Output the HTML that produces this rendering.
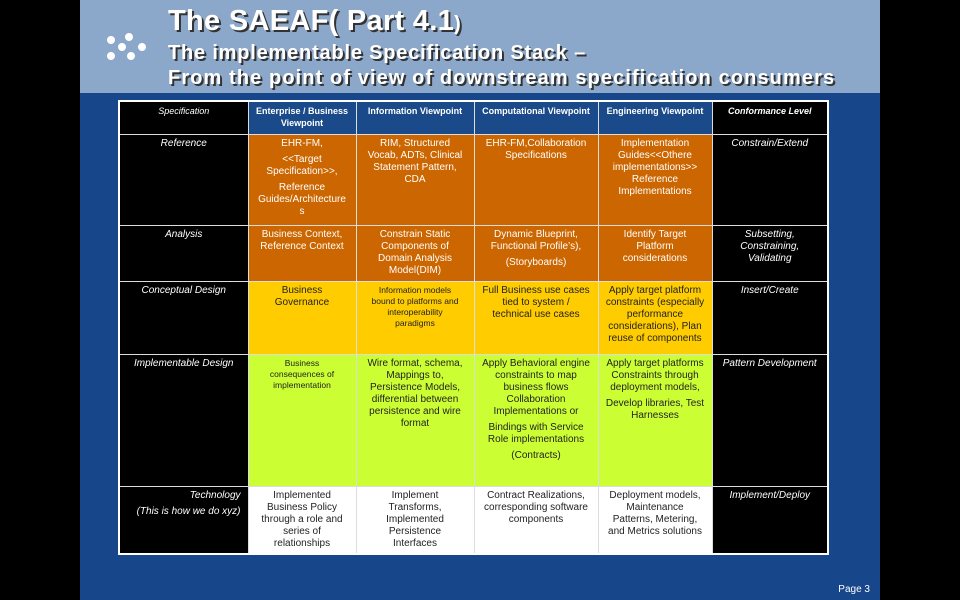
<!DOCTYPE html>
<html><head><meta charset="utf-8"><style>
body{margin:0;width:960px;height:600px;background:#000;position:relative;overflow:hidden;font-family:"Liberation Sans",Arial,sans-serif}
#slide{position:absolute;left:80px;top:0;width:800px;height:600px;background:#17468a}
#band{position:absolute;left:0;top:0;width:800px;height:93px;background:#8ba7c9}
.t{position:absolute;left:88px;color:#fff;font-weight:bold;text-shadow:2px 2px 0 #333;white-space:nowrap}
.dot{position:absolute;width:8px;height:8px;border-radius:50%;background:#fff}
table{position:absolute;left:38px;top:100px;border-collapse:collapse;table-layout:fixed;border:2px solid #fff}
td{border:1px solid #ddd;vertical-align:top;text-align:center;font-size:10px;line-height:12px;padding:3px 7px 1px;color:#222}
td p{margin:0 0 4px}
.k{background:#000;color:#fff;font-style:italic}
.h{background:#1a4a8a;color:#fff;font-weight:bold;font-size:9px;padding:3px 3px 1px}
.o{background:#cc6600;color:#fff}
.y{background:#ffcc00}
.g{background:#ccff33}
#pg{position:absolute;right:10px;bottom:5px;color:#fff;font-size:10px}
</style></head><body>
<div id="slide">
<div id="band"></div>
<div class="dot" style="left:27px;top:36px"></div><div class="dot" style="left:45px;top:33px"></div>
<div class="dot" style="left:38px;top:43px"></div><div class="dot" style="left:58px;top:43px"></div>
<div class="dot" style="left:27px;top:52px"></div><div class="dot" style="left:47px;top:52px"></div>
<div class="t" style="top:5px;font-size:29px;letter-spacing:0.3px">The SAEAF( Part 4.1<span style="font-size:20px">)</span></div>
<div class="t" style="top:42px;font-size:20px;letter-spacing:0.8px">The implementable Specification Stack –</div>
<div class="t" style="top:67px;font-size:20px;letter-spacing:1.1px">From the point of view of downstream specification consumers</div>
<table>
<colgroup><col style="width:129px"><col style="width:108px"><col style="width:118px"><col style="width:124px"><col style="width:114px"><col style="width:116px"></colgroup>
<tr style="height:33px"><td class="k" style="font-size:9px">Specification</td><td class="h">Enterprise / Business Viewpoint</td><td class="h">Information Viewpoint</td><td class="h">Computational Viewpoint</td><td class="h">Engineering Viewpoint</td><td class="k" style="font-weight:bold;font-size:9px">Conformance Level</td></tr>
<tr style="height:91px"><td class="k">Reference</td><td class="o"><p>EHR-FM,</p><p>&lt;&lt;Target Specification&gt;&gt;,</p><p>Reference Guides/Architecture s</p></td><td class="o">RIM, Structured Vocab, ADTs, Clinical Statement Pattern, CDA</td><td class="o">EHR-FM,Collaboration Specifications</td><td class="o">Implementation Guides&lt;&lt;Othere implementations&gt;&gt; Reference Implementations</td><td class="k">Constrain/Extend</td></tr>
<tr style="height:56px"><td class="k">Analysis</td><td class="o">Business Context, Reference Context</td><td class="o">Constrain Static Components of Domain Analysis Model(DIM)</td><td class="o"><p>Dynamic Blueprint, Functional Profile’s),</p><p>(Storyboards)</p></td><td class="o">Identify Target Platform considerations</td><td class="k" style="padding:3px 12px 1px">Subsetting, Constraining, Validating</td></tr>
<tr style="height:73px"><td class="k">Conceptual Design</td><td class="y" style="padding:3px 14px 1px">Business Governance</td><td class="y" style="font-size:8.5px;line-height:11px;padding:3px 10px 1px">Information models bound to platforms and interoperability paradigms</td><td class="y">Full Business use cases tied to system / technical use cases</td><td class="y">Apply target platform constraints (especially performance considerations), Plan reuse of components</td><td class="k">Insert/Create</td></tr>
<tr style="height:132px"><td class="k">Implementable Design</td><td class="g" style="font-size:8.5px;line-height:11px;padding:3px 12px 1px">Business consequences of implementation</td><td class="g">Wire format, schema, Mappings to, Persistence Models, differential between persistence and wire format</td><td class="g"><p>Apply Behavioral engine constraints to map business flows Collaboration Implementations or</p><p>Bindings with Service Role implementations</p><p>(Contracts)</p></td><td class="g"><p>Apply target platforms Constraints through deployment models,</p><p>Develop libraries, Test Harnesses</p></td><td class="k">Pattern Development</td></tr>
<tr style="height:68px"><td class="k" style="text-align:right"><p>Technology</p><p>(This is how we do xyz)</p></td><td style="background:#fff">Implemented Business Policy through a role and series of relationships</td><td style="background:#fff;padding:3px 14px 1px">Implement Transforms, Implemented Persistence Interfaces</td><td style="background:#fff">Contract Realizations, corresponding software components</td><td style="background:#fff">Deployment models, Maintenance Patterns, Metering, and Metrics solutions</td><td class="k">Implement/Deploy</td></tr>
</table>
<div id="pg">Page 3</div>
</div>
</body></html>
